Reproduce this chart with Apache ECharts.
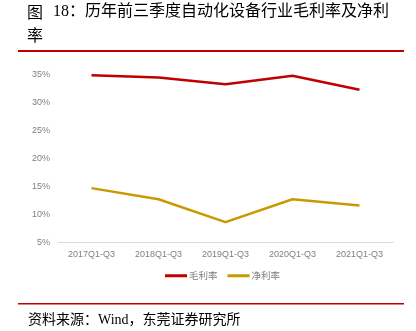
<!DOCTYPE html>
<html>
<head>
<meta charset="utf-8">
<style>
  html, body { margin: 0; padding: 0; background: #fff; }
  #chart { width: 416px; height: 331px; }
</style>
<script src="https://cdn.jsdelivr.net/npm/echarts@6/dist/echarts.min.js"></script>
</head>
<body>
<div id="chart"></div>
<script>
// Categories and series (percent)
const categories = ['2017Q1-Q3', '2018Q1-Q3', '2019Q1-Q3', '2020Q1-Q3', '2021Q1-Q3'];
const grossMargin = [34.9, 34.5, 33.3, 34.8, 32.3];
const netMargin = [14.7, 12.7, 8.6, 12.7, 11.6];
const yTicks = { min: 5, max: 35, interval: 5 };

const titleLine1 = '18：历年前三季度自动化设备行业毛利率及净利';
const titleLine2 = '率';
const sourceText = '资料来源：Wind，东莞证券研究所';

const mixedFont = '"Liberation Serif", "Noto Sans CJK SC", sans-serif';
const cjkFont = '"Noto Sans CJK SC", sans-serif';
const axisFont = '"Liberation Sans", "Noto Sans CJK SC", sans-serif';

const chart = echarts.init(document.getElementById('chart'), null, { renderer: 'canvas' });

chart.setOption({
  animation: false,
  backgroundColor: '#fff',
  grid: { left: 58, right: 23, top: 74.7, bottom: 88.7, containLabel: false },
  legend: {
    top: 266,
    left: 160,
    itemWidth: 22,
    itemHeight: 3,
    itemGap: 10,
    icon: 'rect',
    textStyle: { color: '#7f7f7f', fontSize: 9.5, fontFamily: cjkFont, padding: [0, 0, 0, -3] },
    data: ['毛利率', '净利率']
  },
  xAxis: {
    type: 'category',
    data: categories,
    boundaryGap: true,
    axisLine: { lineStyle: { color: '#d9d9d9', width: 1 } },
    axisTick: { show: false },
    axisLabel: { color: '#7f7f7f', fontSize: 9, fontFamily: axisFont, margin: 8 }
  },
  yAxis: {
    type: 'value',
    min: yTicks.min,
    max: yTicks.max,
    interval: yTicks.interval,
    axisLine: { show: false },
    axisTick: { show: false },
    splitLine: { show: false },
    axisLabel: { color: '#7f7f7f', fontSize: 9, fontFamily: axisFont, margin: 8, formatter: v => v + '%' }
  },
  series: [
    {
      name: '毛利率', type: 'line', data: grossMargin,
      symbol: 'none', lineStyle: { color: '#c00000', width: 2.5 }, itemStyle: { color: '#c00000' }
    },
    {
      name: '净利率', type: 'line', data: netMargin,
      symbol: 'none', lineStyle: { color: '#c99a00', width: 2.5 }, itemStyle: { color: '#c99a00' }
    }
  ],
  graphic: [
    { type: 'text', left: 27, top: 4, style: { text: '图', font: '16px ' + cjkFont, fill: '#000' } },
    { type: 'text', left: 53, top: 4, style: { text: titleLine1, font: '16px ' + mixedFont, fill: '#000' } },
    { type: 'text', left: 27, top: 27, style: { text: titleLine2, font: '16px ' + cjkFont, fill: '#000' } },
    { type: 'rect', left: 18, top: 50, shape: { x: 0, y: 0, width: 386, height: 2 }, style: { fill: '#c00000' } },
    { type: 'rect', left: 18, top: 303, shape: { x: 0, y: 0, width: 386, height: 1.5 }, style: { fill: '#c00000' } },
    { type: 'text', left: 28, top: 313, style: { text: sourceText, font: '14px ' + mixedFont, fill: '#000' } }
  ]
});
</script>
</body>
</html>
